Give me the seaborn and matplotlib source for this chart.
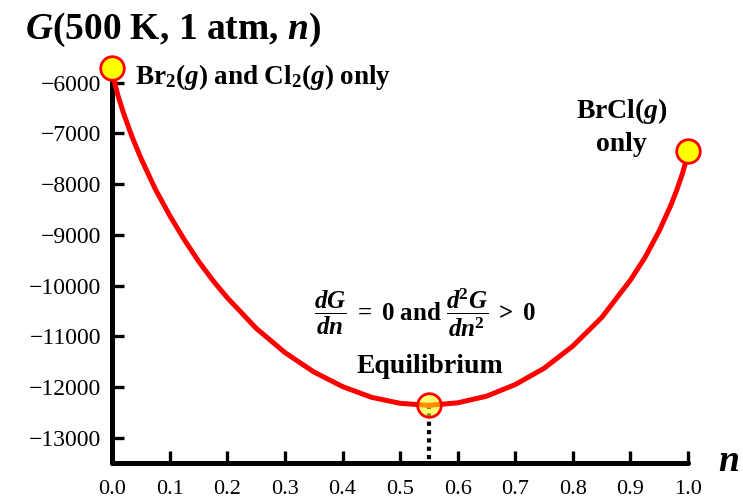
import matplotlib
matplotlib.use("Agg")
import matplotlib.pyplot as plt
import seaborn as sns
import pandas as pd

# values
n_values = [0.000, 0.005, 0.010, 0.020, 0.035, 0.050, 0.075, 0.100, 0.125, 0.150,
            0.175, 0.200, 0.250, 0.300, 0.350, 0.400, 0.450, 0.500, 0.550, 0.600,
            0.650, 0.700, 0.750, 0.800, 0.850, 0.900, 0.925, 0.950, 0.970, 0.980,
            0.990, 0.995, 1.000]
g_values = [-5700, -6030, -6250, -6610, -7080, -7490, -8100, -8620, -9090, -9520,
            -9900, -10240, -10840, -11320, -11700, -11990, -12200, -12320, -12360,
            -12310, -12180, -11950, -11630, -11190, -10630, -9890, -9450, -8920,
            -8420, -8130, -7800, -7600, -7350]

end_n = [0.0, 1.0]
end_g = [-5700, -7350]
eq_n = 0.55
eq_g = -12360

y_ticks = [-6000, -7000, -8000, -9000, -10000, -11000, -12000, -13000]
x_ticks = [0.0, 0.1, 0.2, 0.3, 0.4, 0.5, 0.6, 0.7, 0.8, 0.9, 1.0]

sns.set_style("white")
plt.rcParams["font.family"] = ["Liberation Serif", "DejaVu Serif"]
plt.rcParams["text.color"] = "black"
plt.rcParams["xtick.color"] = "black"
plt.rcParams["ytick.color"] = "black"
plt.rcParams["mathtext.fontset"] = "custom"
plt.rcParams["mathtext.rm"] = "Liberation Serif"
plt.rcParams["mathtext.it"] = "Liberation Serif:italic"
plt.rcParams["mathtext.bf"] = "Liberation Serif:bold"
plt.rcParams["mathtext.bfit"] = "Liberation Serif:bold:italic"

df = pd.DataFrame({"n": n_values, "G": g_values})

fig = plt.figure(figsize=(7.43, 5.04), dpi=100)
ax = fig.add_axes([0.151, 0.081, 0.775, 0.785])

sns.lineplot(data=df, x="n", y="G", color="red", linewidth=3.6, ax=ax, zorder=3)

# dotted drop line from the minimum
ax.plot([eq_n, eq_n], [eq_g, -13500], color="black", linewidth=3,
        linestyle=(0, (1, 1)), zorder=2)

ax.plot(end_n, end_g, linestyle="none", marker="o", markersize=17,
        markerfacecolor="#FFFF00", markeredgecolor="red", markeredgewidth=2,
        clip_on=False, zorder=5)
ax.plot([eq_n], [eq_g], linestyle="none", marker="o", markersize=17,
        markerfacecolor=(1, 1, 0, 0.55), markeredgecolor="red", markeredgewidth=2,
        clip_on=False, zorder=5)

ax.set_xlim(0, 1.0)
ax.set_ylim(-13500, -5700)
ax.set_xticks(x_ticks)
ax.set_xticklabels([f"{v:.1f}" for v in x_ticks])
ax.set_yticks(y_ticks)
ax.set_yticklabels([f"\u2212{abs(v)}" for v in y_ticks])
ax.set_xlabel("")
ax.set_ylabel("")

for side in ["top", "right"]:
    ax.spines[side].set_visible(False)
for side in ["left", "bottom"]:
    ax.spines[side].set_linewidth(3.6)
    ax.spines[side].set_color("black")
    ax.spines[side].set_capstyle("round")

ax.tick_params(axis="both", direction="in", length=8.5, width=2.4, color="black",
               labelsize=17, labelcolor="black", bottom=True, left=True)
ax.tick_params(axis="x", pad=12, labelsize=16)
ax.tick_params(axis="y", pad=8)

fig.text(0.033, 0.94,
         r"$\mathbfit{G}\mathbf{(500\ K,\,1\ atm,}\,\mathbfit{n}\mathbf{)}$",
         fontsize=27, ha="left", va="center")
fig.text(0.995, 0.083, r"$\mathbfit{n}$", fontsize=27, ha="right", va="center")

ax.text(0.04, -5880,
        r"$\mathbf{Br_2(}\mathbfit{g}\mathbf{)\ and\ Cl_2(}\mathbfit{g}\mathbf{)\ only}$",
        fontsize=19.5, ha="left", va="center")
ax.text(0.885, -6550, r"$\mathbf{BrCl(}\mathbfit{g}\mathbf{)}$", fontsize=20,
        ha="center", va="center")
ax.text(0.885, -7210, "only", fontsize=20, fontweight="bold", ha="center", va="center")
ax.text(0.543, -10540,
        r"$\dfrac{\mathbfit{dG}}{\mathbfit{dn}}\mathbf{\ =\ 0\ and\ }"
        r"\dfrac{\mathbfit{d}^{\mathbf{2}}\mathbfit{G}}{\mathbfit{dn}^{\mathbf{2}}}\mathbf{\ >\ 0}$",
        fontsize=18, ha="center", va="center")
ax.text(0.552, -11600, "Equilibrium", fontsize=20, fontweight="bold",
        ha="center", va="center")

fig.savefig("out.png", dpi=100)
